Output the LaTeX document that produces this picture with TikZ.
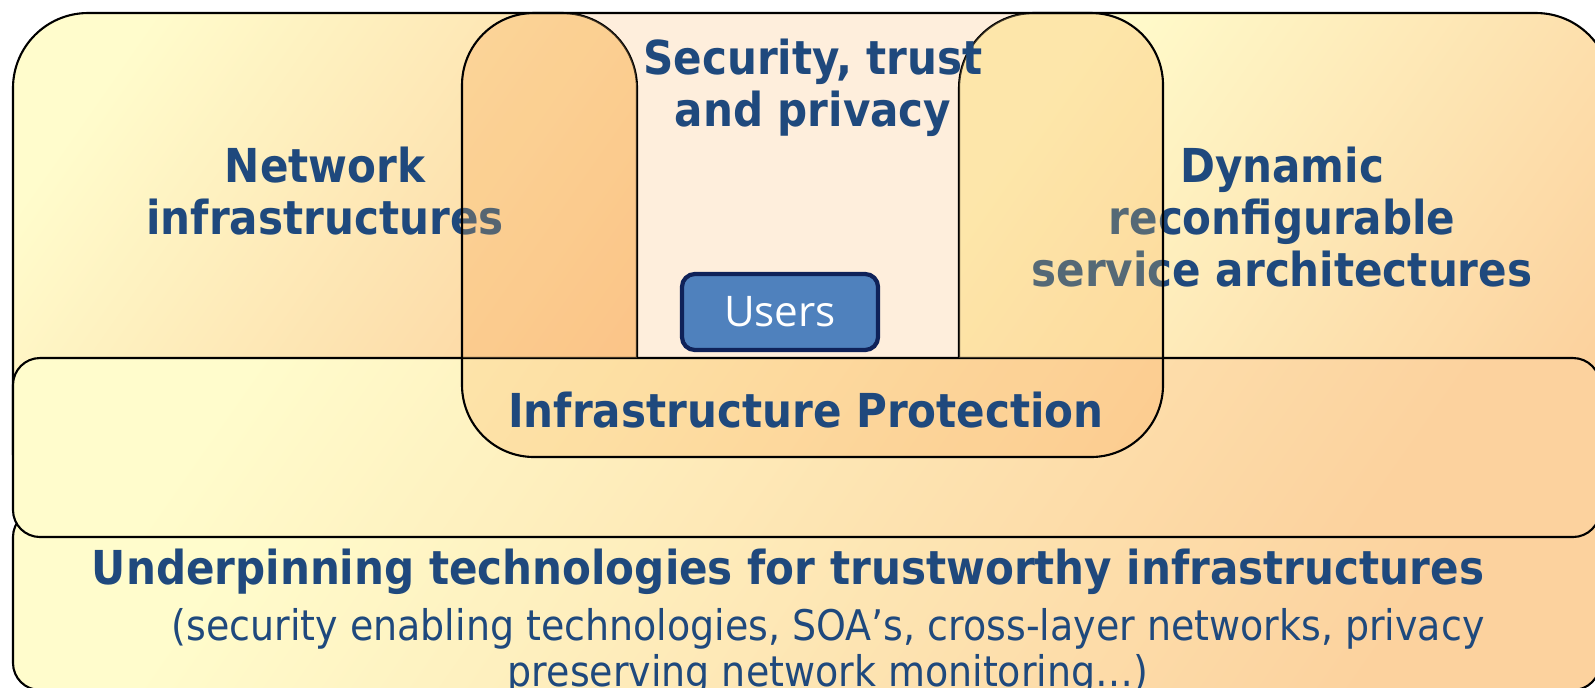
\documentclass[tikz,border=0pt]{standalone}
\usepackage{fontspec}
\newfontfamily\labelfont{DejaVu Sans Condensed}
\newfontfamily\usersfont{Open Sans}
\usepackage{tikz}
\usetikzlibrary{positioning}
\definecolor{titleblue}{HTML}{1F497D}
\definecolor{paleyellow}{HTML}{FFFCCC}
\definecolor{peach}{HTML}{FCD29E}
\definecolor{cream}{HTML}{FEEEDC}
\definecolor{pillarleft}{HTML}{FBCB8A}
\definecolor{pillarright}{HTML}{FDDB9A}
\definecolor{usersblue}{HTML}{4F81BD}
\definecolor{usersedge}{HTML}{0F2259}

\begin{document}
\begin{tikzpicture}[x=0.01cm, y=-0.01cm,
    panel/.style={draw=black, line width=0.6pt, left color=paleyellow,
      right color=peach, shading angle=55},
    heading/.style={text=titleblue, inner sep=0pt, align=center,
      font=\labelfont\bfseries\fontsize{13.3}{14.8}\selectfont},
    note/.style={text=titleblue, inner sep=0pt, align=center,
      font=\labelfont\fontsize{12}{13.1}\selectfont},
    usersbox/.style={rectangle, rounded corners=0.13cm, draw=usersedge,
      line width=1.2pt, fill=usersblue, text=white, minimum width=1.96cm,
      minimum height=0.76cm, font=\usersfont\fontsize{12}{14}\selectfont}
  ]
    \useasboundingbox (0,0) rectangle (1595,687);
    \coordinate (net-a) at (13,13);
    \coordinate (net-b) at (637,528);
    \coordinate (dyn-a) at (959,13);
    \coordinate (dyn-b) at (1611,528);
    \coordinate (sec-a) at (462,13);
    \coordinate (sec-b) at (1163,457);
    \coordinate (band-a) at (13,358);
    \coordinate (band-b) at (1600,537);
    \path[panel, rounded corners=0.27cm] (13,510) rectangle (1600,690);
    \path[panel, rounded corners=0.75cm] (net-a) rectangle (net-b);
    \path[panel, rounded corners=0.75cm] (dyn-a) rectangle (dyn-b);
    \node[heading] (network) at (325,191) {Network\\infrastructures};
    \node[heading] (dynamic) at (1282,217) {Dynamic\\reconfigurable\\service architectures};
    \path[panel, rounded corners=0.27cm] (band-a) rectangle (band-b);
    \begin{scope}[blend mode=multiply]
      \fill[cream, rounded corners=0.72cm] (sec-a) rectangle (sec-b);
    \end{scope}
    \begin{scope}
      \clip[rounded corners=0.72cm] (sec-a) rectangle (sec-b);
      \clip[rounded corners=0.75cm] (net-a) rectangle (net-b);
      \fill[pillarleft, opacity=0.25] (net-a) rectangle (band-a -| net-b);
    \end{scope}
    \begin{scope}
      \clip[rounded corners=0.72cm] (sec-a) rectangle (sec-b);
      \clip[rounded corners=0.75cm] (dyn-a) rectangle (dyn-b);
      \fill[pillarright, opacity=0.25] (dyn-a) rectangle (band-a -| sec-b);
    \end{scope}
    \draw[line width=0.6pt, rounded corners=0.72cm] (sec-a) rectangle (sec-b);
    \node[heading] (security) at (813,88) {Security, trust\\and privacy};
    \node[usersbox] (users) at (780,312) {Users};
    \node[heading] (protection) at (806,410) {Infrastructure Protection};
    \node[heading] (underpinning) at (788,572) {Underpinning technologies for trustworthy infrastructures};
    \node[note, below=0.12cm of underpinning.south, xshift=0.4cm] (examples)
      {(security enabling technologies, SOA’s, cross-layer networks, privacy\\preserving network monitoring…)};
\end{tikzpicture}
\end{document}
